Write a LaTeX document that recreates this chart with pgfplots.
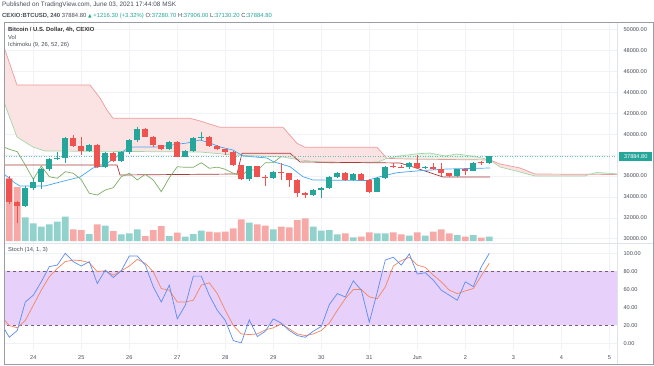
\documentclass[border=0pt]{standalone}
\usepackage{fontspec}
\setmainfont{Liberation Sans}
\newfontfamily\dejavu{DejaVu Sans}
\usepackage{pgfplots}
\usepackage{pgfplotstable}
\pgfplotsset{compat=1.18}

\definecolor{upc}{HTML}{26A69A}
\definecolor{dnc}{HTML}{EF5350}
\definecolor{upv}{HTML}{92D2CC}
\definecolor{dnv}{HTML}{F7A9A7}
\definecolor{spanA}{HTML}{A5D6A7}
\definecolor{spanB}{HTML}{EF9A9A}
\definecolor{cloudR}{HTML}{FCE3E3}
\definecolor{cloudG}{HTML}{E4F3E5}
\definecolor{tenkan}{HTML}{42A5F5}
\definecolor{kijun}{HTML}{A83A3A}
\definecolor{chikou}{HTML}{7DAE63}
\definecolor{stK}{HTML}{5B8DEF}
\definecolor{stD}{HTML}{F5845F}
\definecolor{stBg}{HTML}{E7D0FA}
\definecolor{gridc}{HTML}{F0F2F6}
\definecolor{txt}{HTML}{4A4E59}
\definecolor{framec}{HTML}{9A9DA6}
\definecolor{sepc}{HTML}{E0E3EB}

% candles: i O H L C
\pgfplotstableread{
i O H L C
2 33158 35000 33000 34881
3 34881 35780 34700 35455
4 35455 36750 34756 36670
5 36670 37700 36500 37627
6 37627 38268 37550 37700
7 37700 39750 37216 39666
10 38422 39050 38300 38967
12 36890 38250 36800 38173
14 37436 38350 37350 38268
15 38268 39550 38100 39446
16 39446 40661 39300 40470
20 38556 39350 38500 39283
22 37847 38500 37800 38422
23 38422 39700 38300 39666
24 39666 40240 39350 39761
30 35685 37000 35500 36957
33 35780 36450 35700 36412
38 34182 34750 34100 34661
39 34661 34950 33866 34881
40 34881 36000 34800 35933
41 35933 36350 35850 36259
43 35618 36250 35550 36163
46 34498 35900 34440 35838
47 35838 36950 35700 36890
50 36830 37350 36700 37273
52 36737 36950 36700 36850
56 36029 36700 35900 36641
58 36508 37350 36450 37273
60 37280.7 37906 37130.2 37884.8
}\upT

\pgfplotstableread{
i O H L C
0 35685 36000 33300 33541
1 33541 33650 31474 33158
8 39666 39900 38800 38872
9 38872 39761 38010 38422
11 38967 39050 36800 36890
13 38173 38250 37350 37436
17 40470 40600 39700 39761
18 39761 39800 38800 38967
19 38967 39000 38450 38556
21 39283 39350 37800 37847
25 39761 39800 38800 38871
26 38871 38950 38500 38556
27 38556 38600 38010 38326
28 38326 38350 37000 37053
29 37053 37100 35600 35685
31 36957 37000 35900 35933
32 35933 36050 35024 35780
34 36412 37216 35618 36259
35 36259 36300 34976 35650
36 35650 35700 34020 34345
37 34345 34450 33866 34182
42 36259 36350 35500 35618
44 36163 36250 35500 35618
45 35618 35750 34400 34498
48 36957 37216 36750 36830
49 36900 37050 36750 36830
51 37273 38010 36700 36737
53 36890 37216 36600 36641
54 36641 37216 36000 36259
55 36259 36300 35900 36029
57 36641 36700 36096 36508
59 37350 37400 37100 37280.7
}\dnT

\pgfplotstableread{
i v
2 23.7
3 17.7
4 14.3
5 16.7
6 19.3
7 24.3
10 7
12 15.3
14 6.7
15 7.7
16 11.7
20 5
22 4.3
23 7
24 10.3
30 18.3
33 11.7
38 14.3
39 10.3
40 11
41 6.7
43 3.7
46 7.7
47 7.7
50 5.3
52 5.3
56 6
58 6
60 4.3
}\volUp

\pgfplotstableread{
i v
0 63
1 54
8 11.7
9 11
11 16.7
13 10
17 5
18 11
19 15
21 8.3
25 9.3
26 8.7
27 9.3
28 12.7
29 21.7
31 16.7
32 15.3
34 14.3
35 13.7
36 21
37 22.7
42 7.7
44 4.3
45 8.7
48 8.7
49 6.7
51 8.7
53 9.3
54 11.7
55 7.7
57 4.3
59 3.3
}\volDn

% lagging span: close of bar i+26 plotted at bar i
\pgfplotstableread{
i v
-1 38871
0 38556
1 38326
2 37053
3 35685
4 36957
5 35933
6 35780
7 36412
8 36259
9 35650
10 34345
11 34182
12 34661
13 34881
14 35933
15 36259
16 35618
17 36163
18 35618
19 34498
20 35838
21 36890
22 36830
23 36830
24 37273
25 36737
26 36850
27 36641
28 36259
29 36029
30 36641
31 36508
32 37273
33 37280.7
34 37884.8
}\chikouT

% stochastic: bar K D
\pgfplotstableread{
i K D
-1 22 30
0 6.7 19.8
1 14.2 17.2
2 45.9 25.4
3 53.4 42.2
4 68.3 59
5 85.1 73.9
6 86.9 83.2
7 100 90.7
8 90.7 92.5
9 85.8 91.8
10 90.7 89.6
11 66.4 79.5
12 81.3 80.6
13 73.1 75.7
14 80.6 80.6
15 97 85.8
16 97 93.3
17 86.9 88.8
18 62.7 79.5
19 45.9 60.8
20 64.6 59
21 27.2 45.9
22 42.2 45.9
23 74.6 47.8
24 74.6 64.6
25 53.4 67.2
26 36.6 55.2
27 25.4 36.6
28 3 19.8
29 0.5 10.4
30 26.1 9.7
31 7.5 10.4
32 13.4 14.9
33 27.2 17.2
34 22.4 21.6
35 14.2 16
36 8.6 10.4
37 6.7 8.6
38 13.4 10.4
39 18.7 14.2
40 43 22.5
41 55.2 36.6
42 51.5 49.6
43 69.4 59.7
44 59 59.7
45 23.5 51.5
46 57.1 49.6
47 92.5 62.7
48 95.5 85.8
49 86.9 91.8
50 99.3 95.5
51 76.9 86.9
52 78.4 84.3
53 70.1 75.7
54 59 68.3
55 53.4 59
56 47.8 55.2
57 68.3 58.2
58 63 60.8
59 85 75
60 100 89
}\stochT

\newcommand{\tf}{\fontsize{5.6bp}{6.5bp}\selectfont}

\pgfplotsset{
  pane/.style={scale only axis, anchor=north west, width=613bp,
    xmin=-0.66, xmax=75.96, axis line style={draw=none},
    major tick length=0pt, tick style={draw=none}},
  ylab/.style={yticklabel pos=right, scaled y ticks=false,
    y tick label style={font=\tf, text=txt, anchor=west, xshift=3bp},
    /pgf/number format/fixed, /pgf/number format/fixed zerofill,
    /pgf/number format/precision=2, /pgf/number format/1000 sep={},
    /pgf/number format/assume math mode=true},
}

\begin{document}
\begin{tikzpicture}
\path[use as bounding box] (0,0) rectangle (654bp,-366bp);
\fill[white] (0,0) rectangle (654bp,-366bp);

\node[anchor=west, inner sep=0pt, font=\fontsize{6.4bp}{7bp}\selectfont, text=txt] at (2bp,-5bp)
  {Published on TradingView.com, June 03, 2021 17:44:08 MSK};
\node[anchor=west, inner sep=0pt, font=\fontsize{5.9bp}{7bp}\selectfont, text=txt] at (2bp,-16bp)
  {\textbf{CEXIO:BTCUSD, 240} 37884.80 {\color{upc}{\dejavu\fontsize{4.7bp}{5bp}\selectfont ▲} +1216.30 (+3.32\%)} O:{\color{upc}37280.70} H:{\color{upc}37906.00} L:{\color{upc}37130.20} C:{\color{upc}37884.80}};

% ---- price pane: grid, cloud, ticks
\begin{axis}[pane, ylab, at={(4bp,-22bp)}, height=221bp,
  ymin=29588, ymax=50738,
  xtick={3,9,...,75}, xticklabels={},
  ytick={30000,32000,34000,36000,40000,42000,44000,46000,48000,50000},
  extra y ticks={38000}, extra y tick labels={},
  grid=major, grid style={gridc, line width=0.5bp}]
% red cloud 1
\addplot[fill=cloudR, draw=none] coordinates {
(-0.66,48346) (0.96,44709) (10.09,44709) (11.34,43465) (12.21,42317) (12.96,41522)
(22.59,41522) (23.84,41264) (26.34,40661) (34.21,40661) (35.96,39130) (36.96,38747)
(45.96,38747) (47.21,37690)
(46.09,37340) (40.09,37245) (36.34,37532) (34.21,37819) (27.96,38010) (23.84,38297)
(15.09,38345) (4.46,38393) (2.96,38776) (0.96,39733) (-0.66,43082)};
% green cloud 1
\addplot[fill=cloudG, draw=none] coordinates {
(47.21,37690) (48.84,37914) (50.71,38106) (52.59,38201) (54.46,37914) (55.96,38106)
(58.21,37867) (60.09,37532) (50,37620) (47.21,37690)};
% red cloud 2
\addplot[fill=cloudR, draw=none] coordinates {
(60.09,37532) (61.34,37149) (63.84,36766) (65.71,36192) (72.5,36160)
(71.96,36000) (65.71,36000) (63.84,36383) (61.34,36862) (60.09,37532)};
% green cloud 2
\addplot[fill=cloudG, draw=none] coordinates {
(72.5,36160) (73.46,36335) (75.34,36240) (75.96,36192) (75.96,36144) (72.5,36160)};
\end{axis}

% ---- volume
\begin{axis}[pane, at={(4bp,-22bp)}, height=221bp, ymin=-2, ymax=219, hide axis]
\addplot[ybar, bar width=0.85, bar shift=0pt, fill=upv, draw=none] table[x=i, y=v] {\volUp};
\addplot[ybar, bar width=0.85, bar shift=0pt, fill=dnv, draw=none] table[x=i, y=v] {\volDn};
\end{axis}

% ---- price lines and candles
\begin{axis}[pane, at={(4bp,-22bp)}, height=221bp, ymin=29588, ymax=50738,
  hide axis, clip mode=individual]
\addplot[spanB, line width=0.7bp] coordinates {
(-0.66,48346) (0.96,44709) (10.09,44709) (11.34,43465) (12.21,42317) (12.96,41522)
(22.59,41522) (23.84,41264) (26.34,40661) (34.21,40661) (35.96,39130) (36.96,38747)
(45.96,38747) (47.21,37690) (50,37620) (60.09,37532) (61.34,37149) (63.84,36766)
(65.71,36192) (72.5,36160) (75.96,36144)};
\addplot[spanA, line width=0.7bp] coordinates {
(-0.66,43082) (0.96,39733) (2.96,38776) (4.46,38393) (15.09,38345) (23.84,38297)
(27.96,38010) (34.21,37819) (36.34,37532) (40.09,37245) (46.09,37340) (47.21,37690)
(48.84,37914) (50.71,38106) (52.59,38201) (54.46,37914) (55.96,38106) (58.21,37867)
(60.09,37532) (61.34,36862) (63.84,36383) (65.71,36000) (71.96,36000) (72.5,36160)
(73.46,36335) (75.34,36240) (75.96,36192)};
\addplot[kijun, line width=0.7bp] coordinates {
(-0.66,37053) (13.46,37053) (13.84,36096) (28.46,36192) (29.09,38173) (35.09,38173)
(36.34,37340) (48.84,37245) (50.46,36862) (54.21,35904) (60.09,35904)};
\addplot[tenkan, line width=0.7bp] coordinates {
(-0.66,36192) (0.71,35330) (1.34,35043) (4.46,35043) (6.34,35426) (8.84,35904)
(10.46,36766) (11.71,36957) (13.21,37723) (14.46,38489) (15.46,38776) (18.46,38776)
(22.21,39158) (23.84,39446) (25.09,39158) (26.34,38776) (27.96,38489) (29.21,37915)
(32.21,37723) (33.0,37369) (35.09,36890) (36.71,35933) (37.96,35618) (44.71,35570)
(46.34,35933) (48.46,36316) (51.34,36508) (54.71,36670) (60.09,36766)};
\addplot[chikou, line width=0.7bp] table[x=i, y=v] {\chikouT};
\addplot[upc!70, dotted, line width=0.5bp] coordinates {(-1,37884.8) (77,37884.8)};
% wicks
\addplot[draw=none, error bars/.cd, y dir=plus, y explicit, error mark=none,
  error bar style={draw=upc, line width=0.9bp}]
  table[x=i, y=L, y error plus expr={\thisrow{H}-\thisrow{L}}] {\upT};
\addplot[draw=none, error bars/.cd, y dir=plus, y explicit, error mark=none,
  error bar style={draw=dnc, line width=0.9bp}]
  table[x=i, y=L, y error plus expr={\thisrow{H}-\thisrow{L}}] {\dnT};
% bodies
\addplot[draw=none, error bars/.cd, y dir=plus, y explicit, error mark=none,
  error bar style={draw=upc, line width=5.8bp}]
  table[x=i, y=O, y error plus expr={\thisrow{C}-\thisrow{O}}] {\upT};
\addplot[draw=none, error bars/.cd, y dir=plus, y explicit, error mark=none,
  error bar style={draw=dnc, line width=5.8bp}]
  table[x=i, y=C, y error plus expr={\thisrow{O}-\thisrow{C}}] {\dnT};
\node[fill=upc, text=white, anchor=west, inner sep=0pt, minimum width=33bp,
  minimum height=9.5bp, font=\tf, xshift=2bp] at (axis cs:75.96,37884.8) {37884.80};
\end{axis}

% ---- stochastic pane
\begin{axis}[pane, ylab, at={(4bp,-243bp)}, height=107bp, ymin=-7.44, ymax=111.4,
  xtick={3,9,...,75},
  xticklabels={24,25,26,27,28,29,30,31,Jun,2,3,4,5},
  ytick={0,20,...,100},
  grid=major, grid style={gridc, line width=0.5bp},
  x tick label style={font=\tf, text=txt, anchor=north, yshift=-2.5bp}]
\addplot[fill=stBg, draw=none] coordinates {(-1,20) (77,20) (77,80) (-1,80)};
\addplot[gray!70!violet, dashed, line width=0.5bp] coordinates {(-1,80) (77,80)};
\addplot[gray!70!violet, dashed, line width=0.5bp] coordinates {(-1,20) (77,20)};
\addplot[stD, line width=0.7bp] table[x=i, y=D] {\stochT};
\addplot[stK, line width=0.7bp] table[x=i, y=K] {\stochT};
\end{axis}

\node[anchor=west, inner sep=0pt, font=\fontsize{5.9bp}{7bp}\selectfont\bfseries, text=black!80] at (8bp,-29.5bp)
  {Bitcoin / U.S. Dollar, 4h, CEXIO};
\node[anchor=west, inner sep=0pt, font=\fontsize{5.8bp}{7bp}\selectfont, text=txt] at (8bp,-37bp) {Vol};
\node[anchor=west, inner sep=0pt, font=\fontsize{5.8bp}{7bp}\selectfont, text=txt] at (8bp,-44.5bp) {Ichimoku (9, 26, 52, 26)};
\node[anchor=west, inner sep=0pt, font=\fontsize{5.8bp}{7bp}\selectfont, text=txt] at (8bp,-249.5bp) {Stoch (14, 1, 3)};

% frame
\draw[sepc, line width=0.6bp] (617bp,-22bp) -- (617bp,-364bp);
\draw[sepc, line width=0.6bp] (4bp,-243bp) -- (653bp,-243bp);
\draw[framec, line width=0.8bp] (4bp,-22bp) rectangle (653.5bp,-364bp);
\end{tikzpicture}
\end{document}
